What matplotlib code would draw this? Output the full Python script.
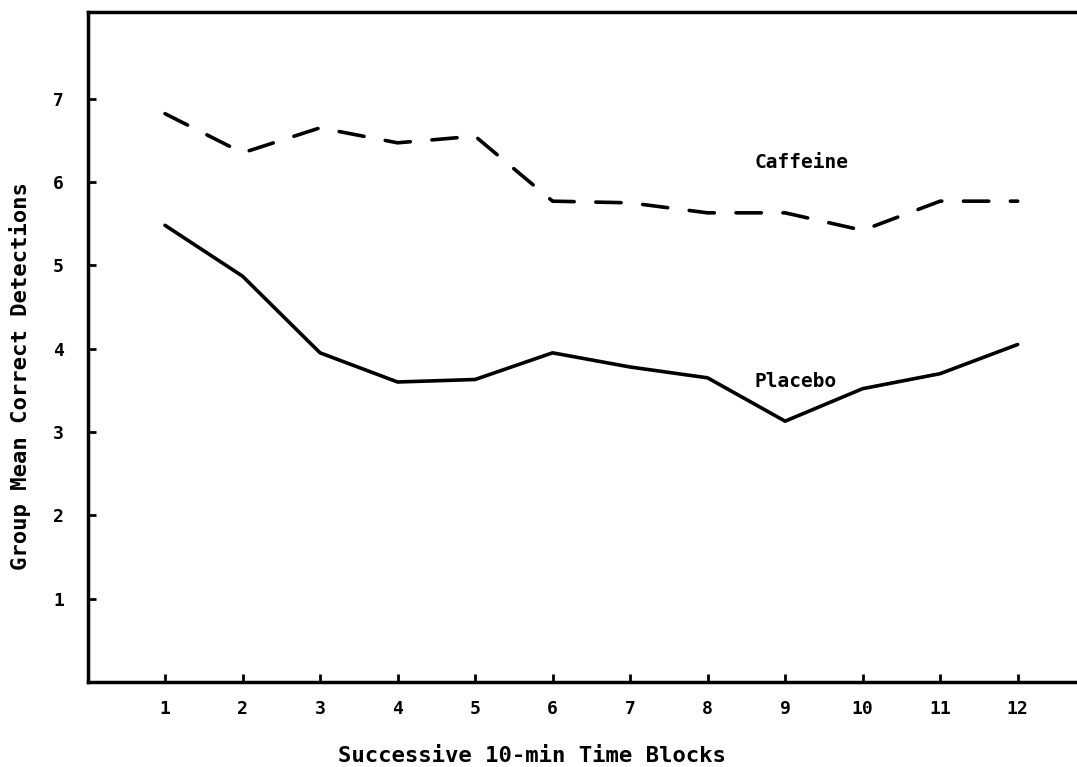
import numpy as np
import matplotlib.pyplot as plt

# data
blocks = [1, 2, 3, 4, 5, 6, 7, 8, 9, 10, 11, 12]
caffeine = [6.82, 6.35, 6.65, 6.47, 6.55, 5.77, 5.75, 5.63, 5.63, 5.42, 5.77, 5.77]
placebo = [5.48, 4.87, 3.95, 3.60, 3.63, 3.95, 3.78, 3.65, 3.13, 3.52, 3.70, 4.05]
yticks = [1, 2, 3, 4, 5, 6, 7]

plt.rcParams['font.family'] = 'DejaVu Sans Mono'
plt.rcParams['font.weight'] = 'bold'

fig = plt.figure(figsize=(10.77, 7.67), dpi=100)
ax = fig.add_axes([87.5 / 1077, 85 / 767, (1075 - 87.5) / 1077, 670 / 767])

ax.plot(blocks, placebo, color='black', lw=2.6, solid_capstyle='round')
ax.plot(blocks, caffeine, color='black', lw=2.6, dashes=(7, 6), dash_capstyle='round')

ax.text(8.6, 6.23, 'Caffeine', fontsize=14, fontweight='bold', va='center', ha='left')
ax.text(8.6, 3.6, 'Placebo', fontsize=14, fontweight='bold', va='center', ha='left')

ax.set_xlim(0, 12.74)
ax.set_ylim(0, 8.04)
ax.set_xticks(blocks)
ax.set_yticks(yticks)
ax.tick_params(direction='in', length=6, width=2, labelsize=13)
ax.tick_params(axis='x', pad=13)
ax.tick_params(axis='y', pad=17)
for lab in ax.get_xticklabels() + ax.get_yticklabels():
    lab.set_fontweight('bold')

ax.spines['right'].set_visible(False)
for s in ['left', 'bottom', 'top']:
    ax.spines[s].set_linewidth(2.5)

fig.text(532 / 1077, 1 - 756 / 767, 'Successive 10-min Time Blocks',
         fontsize=16, fontweight='bold', ha='center', va='center')
fig.text(20 / 1077, 1 - 376 / 767, 'Group Mean Correct Detections',
         fontsize=16, fontweight='bold', ha='center', va='center', rotation=90)

fig.savefig('out.png', dpi=100)
